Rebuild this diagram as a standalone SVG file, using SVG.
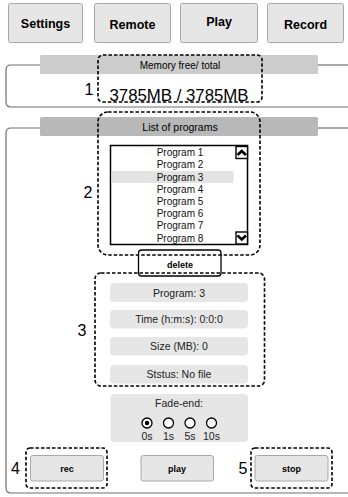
<svg xmlns="http://www.w3.org/2000/svg" width="348" height="497" viewBox="0 0 348 497">
<style>
text{font-family:"Liberation Sans",Arial,sans-serif;fill:#000}
.btn{fill:#e6e6e6;stroke:#a8a8a8;stroke-width:1}
.btnt{font-size:12.5px;font-weight:bold;text-anchor:middle}
.sbtn{font-size:9px;font-weight:bold;text-anchor:middle}
.frame{fill:none;stroke:#707070;stroke-width:1.2}
.dash{fill:none;stroke:#000;stroke-width:1.6;stroke-dasharray:3.5,2}
.num{font-size:16px}
.field{fill:#e6e6e6;stroke:none}
.ft{font-size:10.5px;text-anchor:middle;fill:#222}
.pt{font-size:10px;text-anchor:middle;fill:#111}
.chev{fill:none;stroke:#000;stroke-width:2.6;stroke-linejoin:miter}
</style>
<g id="tab-settings"><rect class="btn" x="8.5" y="3.5" width="74" height="39" rx="2"/><text class="btnt" x="45.5" y="27.5">Settings</text></g>
<g id="tab-remote"><rect class="btn" x="94.5" y="3.5" width="76" height="39" rx="2"/><text class="btnt" x="132.5" y="28.5">Remote</text></g>
<g id="tab-play"><rect class="btn" x="180.5" y="3.5" width="77" height="39" rx="2"/><text class="btnt" x="219" y="25.5">Play</text></g>
<g id="tab-record"><rect class="btn" x="267.5" y="3.5" width="76" height="39" rx="2"/><text class="btnt" x="305.5" y="28.5">Record</text></g>

<g id="memory-panel">
<path class="frame" d="M40 65 H11 Q6 65 6 70 V102 Q6 107 11 107 H350"/>
<line class="frame" x1="318" y1="65" x2="350" y2="65"/>
<rect x="40" y="55" width="278" height="19" rx="1.5" fill="#cccccc"/>
<text x="180" y="68.5" font-size="10" text-anchor="middle" fill="#222">Memory free/ total</text>
<text x="179" y="100.5" font-size="16.8" text-anchor="middle" fill="#111">3785MB / 3785MB</text>
</g>

<g id="programs-panel">
<path class="frame" d="M40 128 H11 Q6 128 6 133 V488 Q6 493 11 493 H350"/>
<line class="frame" x1="318" y1="128" x2="350" y2="128"/>
<rect x="40" y="117" width="278" height="19" rx="1.5" fill="#b8b8b8"/>
<text x="180" y="131" font-size="10.5" text-anchor="middle" fill="#222">List of programs</text>
</g>

<g id="program-list">
<rect x="110.5" y="145.5" width="137" height="99" fill="#fff" stroke="#000" stroke-width="1.5"/>
<rect x="111.5" y="171" width="122" height="12" fill="#e3e3e3"/>
<text class="pt" x="180" y="156.3">Program 1</text>
<text class="pt" x="180" y="168.3">Program 2</text>
<text class="pt" x="180" y="180.5">Program 3</text>
<text class="pt" x="180" y="192.8">Program 4</text>
<text class="pt" x="180" y="204.8">Program 5</text>
<text class="pt" x="180" y="217">Program 6</text>
<text class="pt" x="180" y="229.2">Program 7</text>
<text class="pt" x="180" y="241.8">Program 8</text>
<rect x="236" y="146.5" width="11.5" height="12" fill="#fff" stroke="#000" stroke-width="1.4"/>
<polyline class="chev" points="237.5,155 241.75,151 246,155"/>
<rect x="236" y="232" width="11.5" height="12" fill="#fff" stroke="#000" stroke-width="1.4"/>
<polyline class="chev" points="237.5,235.5 241.75,239.5 246,235.5"/>
</g>

<g id="delete-button">
<rect x="138.5" y="250" width="82.5" height="26" rx="3" fill="#fff" stroke="#000" stroke-width="1.3"/>
<text class="sbtn" x="180" y="268">delete</text>
</g>

<g id="info-fields">
<rect class="field" x="110" y="283" width="138" height="19" rx="4"/>
<text class="ft" x="179" y="296.5">Program: 3</text>
<rect class="field" x="110" y="310" width="138" height="18.5" rx="4"/>
<text class="ft" x="179" y="323">Time (h:m:s): 0:0:0</text>
<rect class="field" x="110" y="337" width="138" height="18.5" rx="4"/>
<text class="ft" x="179" y="350">Size (MB): 0</text>
<rect class="field" x="110" y="365" width="138" height="18.5" rx="4"/>
<text class="ft" x="179" y="378">Ststus: No file</text>
</g>

<g id="fade-end">
<rect class="field" x="110.5" y="394" width="137.5" height="48" rx="4"/>
<text class="ft" x="179" y="407">Fade-end:</text>
<circle cx="147" cy="423" r="5" fill="#fff" stroke="#000" stroke-width="1.3"/>
<circle cx="147" cy="423" r="2.2" fill="#000"/>
<circle cx="168.5" cy="423" r="5" fill="#fff" stroke="#000" stroke-width="1.3"/>
<circle cx="190" cy="423" r="5" fill="#fff" stroke="#000" stroke-width="1.3"/>
<circle cx="211.5" cy="423" r="5" fill="#fff" stroke="#000" stroke-width="1.3"/>
<text class="ft" x="147" y="439.5" font-size="11">0s</text>
<text class="ft" x="168.5" y="439.5" font-size="11">1s</text>
<text class="ft" x="190" y="439.5" font-size="11">5s</text>
<text class="ft" x="211.5" y="439.5" font-size="11">10s</text>
</g>

<g id="btn-rec"><rect class="btn" x="30.5" y="455.5" width="73" height="25.5" rx="2.5"/><text class="sbtn" x="67" y="471.5">rec</text></g>
<g id="btn-play"><rect class="btn" x="141" y="455.5" width="72.5" height="25.5" rx="2.5"/><text class="sbtn" x="177" y="471.5">play</text></g>
<g id="btn-stop"><rect class="btn" x="255" y="455.5" width="73" height="25.5" rx="2.5"/><text class="sbtn" x="291.5" y="471.5">stop</text></g>

<g id="annotations">
<rect class="dash" x="98" y="55" width="164" height="47" rx="5"/>
<text class="num" x="89" y="95" text-anchor="middle">1</text>
<rect class="dash" x="98" y="112" width="162" height="143" rx="10"/>
<text class="num" x="88" y="198" text-anchor="middle">2</text>
<rect class="dash" x="95" y="273" width="169.5" height="113" rx="6"/>
<text class="num" x="82" y="336" text-anchor="middle">3</text>
<rect class="dash" x="26" y="448" width="81" height="40" rx="4"/>
<text class="num" x="15.5" y="474" text-anchor="middle">4</text>
<rect class="dash" x="251" y="448" width="81" height="40" rx="4"/>
<text class="num" x="243" y="474" text-anchor="middle">5</text>
</g>
</svg>
